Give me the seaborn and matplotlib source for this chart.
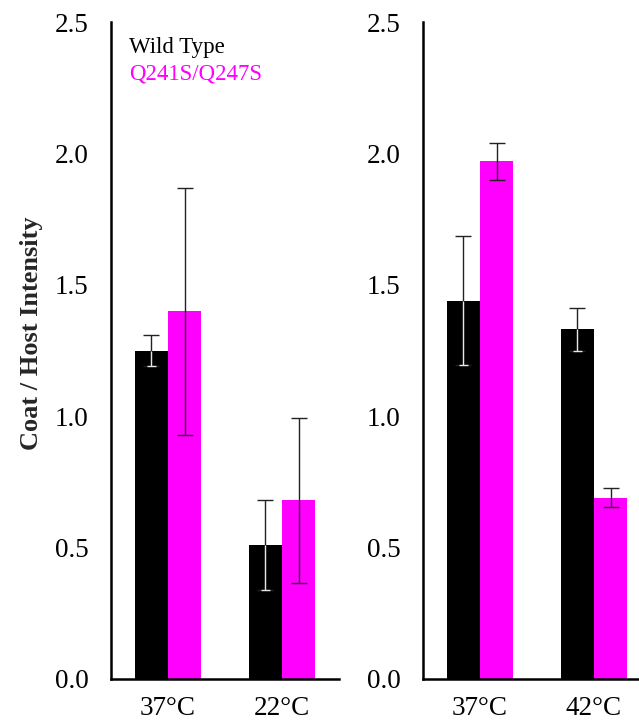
import pandas as pd
import matplotlib
matplotlib.use("Agg")
import matplotlib.pyplot as plt
import seaborn as sns

# values
strains = ["Wild Type", "Q241S/Q247S"]
colors = ["black", "#ff00ff"]

temps_left = ["37°C", "22°C"]
wt_left = [1.25, 0.51]
wt_left_err = [0.06, 0.17]
mut_left = [1.40, 0.68]
mut_left_err = [0.47, 0.315]

temps_right = ["37°C", "42°C"]
wt_right = [1.44, 1.33]
wt_right_err = [0.245, 0.08]
mut_right = [1.97, 0.69]
mut_right_err = [0.07, 0.035]

yticks = [0.0, 0.5, 1.0, 1.5, 2.0, 2.5]


def make_frame(temps, wt, mut):
    rows = []
    for t, v in zip(temps, wt):
        rows.append({"temp": t, "strain": strains[0], "value": v})
    for t, v in zip(temps, mut):
        rows.append({"temp": t, "strain": strains[1], "value": v})
    return pd.DataFrame(rows)


def draw_panel(ax, temps, wt, wt_err, mut, mut_err):
    df = make_frame(temps, wt, mut)
    sns.barplot(data=df, x="temp", y="value", hue="strain", order=temps,
                hue_order=strains, palette=colors, width=0.58, linewidth=0,
                saturation=1, errorbar=None, ax=ax, legend=False)

    # error bars at the bar centres
    wt_bars = list(ax.containers[0])
    mut_bars = list(ax.containers[1])
    wt_x = [b.get_x() + b.get_width() / 2 for b in wt_bars]
    mut_x = [b.get_x() + b.get_width() / 2 for b in mut_bars]
    kw = dict(fmt="none", ecolor="#222222", elinewidth=1.0, capsize=5.8,
              capthick=1.0, zorder=5)
    ax.errorbar(wt_x, wt, yerr=wt_err, **kw)
    ax.errorbar(mut_x, mut, yerr=mut_err, **kw)

    # the wild type bars show the part of the bar inside the bar in white
    cap = wt_bars[0].get_width() * 0.13
    lows = [v - e for v, e in zip(wt, wt_err)]
    ax.vlines(wt_x, lows, wt, color="#e6e6e6", lw=1.0, zorder=6)
    ax.hlines(lows, [x - cap for x in wt_x], [x + cap for x in wt_x],
              color="#e6e6e6", lw=1.0, zorder=6)

    ax.set_xlim(-0.5, 1.5)
    ax.set_ylim(0, 2.5)
    ax.set_yticks(yticks)
    ax.set_yticklabels([f"{t:.1f}" for t in yticks])
    ax.set_xlabel("")
    ax.set_ylabel("")
    for side in ["top", "right"]:
        ax.spines[side].set_visible(False)
    for side in ["left", "bottom"]:
        ax.spines[side].set_linewidth(1.8)
        ax.spines[side].set_color("black")
    ax.tick_params(axis="y", direction="in", length=4.5, width=1.8,
                   pad=16, labelsize=19.5, colors="black")
    ax.tick_params(axis="x", length=0, pad=12, labelsize=19.5, colors="black")


sns.set_style("white")
plt.rcParams["font.family"] = ["Liberation Serif", "DejaVu Serif"]

fig = plt.figure(figsize=(6.39, 7.2), dpi=100)
ax1 = fig.add_axes([111 / 639, 41 / 720, 228 / 639, 657 / 720])
ax2 = fig.add_axes([423 / 639, 41 / 720, 228 / 639, 657 / 720])

draw_panel(ax1, temps_left, wt_left, wt_left_err, mut_left, mut_left_err)
draw_panel(ax2, temps_right, wt_right, wt_right_err, mut_right, mut_right_err)

ax1.set_ylabel("Coat / Host Intensity", fontsize=19, fontweight="bold")
ax1.yaxis.set_label_coords(-0.298, 0.527)

ax1.text(0.079, 0.953, strains[0], color=colors[0], fontsize=16.5,
         transform=ax1.transAxes, va="baseline", ha="left")
ax1.text(0.079, 0.913, strains[1], color=colors[1], fontsize=16.5,
         transform=ax1.transAxes, va="baseline", ha="left")

fig.savefig("out.png", dpi=100)
